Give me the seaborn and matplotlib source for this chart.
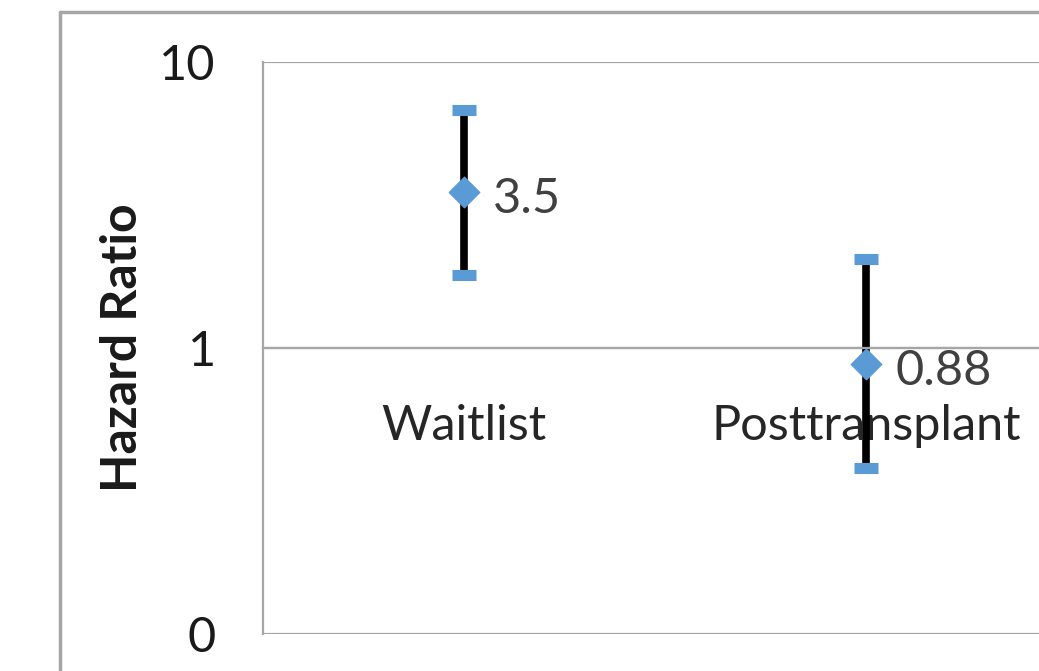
import matplotlib
matplotlib.use('Agg')
import matplotlib.pyplot as plt
import seaborn as sns
import pandas as pd
from matplotlib.lines import Line2D
from matplotlib.ticker import FixedLocator, NullFormatter

# Hazard ratios with confidence interval
groups = ['Waitlist', 'Posttransplant']
hr = [3.5, 0.88]
ci_low = [1.8, 0.38]
ci_high = [6.8, 2.05]
ytick_vals = [0.1, 1, 10]
ytick_labels = ['0', '1', '10']

df = pd.DataFrame({'group': groups, 'hr': hr, 'low': ci_low, 'high': ci_high})

sns.set_style('white')
plt.rcParams['font.family'] = ['Lato', 'DejaVu Sans']

blue = '#5B9BD5'
grey = '#a6a6a6'

fig = plt.figure(figsize=(10.39, 6.71), dpi=100)
ax = fig.add_axes([263 / 1039, 1 - 634 / 671, 804 / 1039, 572 / 671])

ax.vlines(df['group'], df['low'], df['high'], color='black', linewidth=5.5, zorder=2)
sns.scatterplot(data=df, x='group', y='high', marker='_', s=280, linewidth=8,
                color=blue, edgecolor=blue, ax=ax, zorder=3, legend=False)
sns.scatterplot(data=df, x='group', y='low', marker='_', s=280, linewidth=8,
                color=blue, edgecolor=blue, ax=ax, zorder=3, legend=False)
sns.scatterplot(data=df, x='group', y='hr', marker='D', s=240, color=blue,
                edgecolor=blue, linewidth=1, ax=ax, zorder=4, legend=False)

for i, v in enumerate(hr):
    ax.annotate(f'{v:g}', (i, v), xytext=(21, -5), textcoords='offset points',
                va='center', ha='left', fontsize=35, color='#404040')

ax.set_yscale('log')
ax.set_ylim(0.1, 10)
ax.set_xlim(-0.5, len(groups) - 0.5)
ax.yaxis.set_major_locator(FixedLocator(ytick_vals))
ax.yaxis.set_minor_locator(FixedLocator([]))
ax.set_yticklabels(ytick_labels, fontsize=35, color='#1a1a1a')
ax.tick_params(axis='y', length=12, width=1.5, color=grey, pad=22)
ax.yaxis.grid(True, color=grey, linewidth=1.6)

ax.spines['bottom'].set_position(('data', 1))
ax.spines['bottom'].set_color(grey)
ax.spines['bottom'].set_linewidth(1.6)
ax.spines['left'].set_color(grey)
ax.spines['left'].set_linewidth(1.6)
ax.spines['top'].set_visible(False)
ax.spines['right'].set_visible(False)

ax.xaxis.set_minor_locator(FixedLocator([0.5]))
ax.xaxis.set_minor_formatter(NullFormatter())
ax.tick_params(axis='x', which='minor', direction='out', length=12, width=1.5, color=grey)
ax.tick_params(axis='x', which='major', length=0, pad=40, labelsize=35, labelcolor='#262626')
ax.set_xlabel('')
ax.set_ylabel('Hazard Ratio', fontsize=36, fontweight='bold', color='#1a1a1a')
ax.yaxis.set_label_coords(-0.147, 0.5)

# outer chart frame
fig.add_artist(Line2D([60 / 1039, 60 / 1039], [0, 1 - 12 / 671], color=grey, linewidth=2.5))
fig.add_artist(Line2D([60 / 1039, 1], [1 - 12 / 671, 1 - 12 / 671], color=grey, linewidth=2.5))

fig.savefig('out.png', dpi=100)
